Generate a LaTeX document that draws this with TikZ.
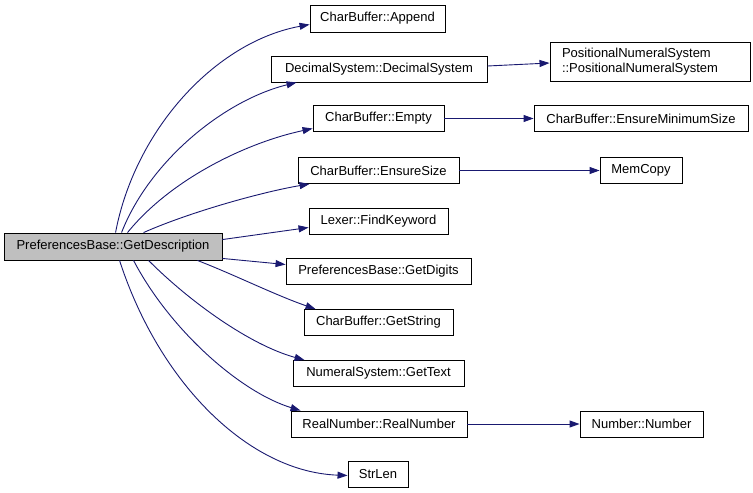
\documentclass[tikz,border=0pt]{standalone}
\usepackage{fontspec}
\setmainfont{Liberation Sans}
\usetikzlibrary{arrows.meta}
\definecolor{edgec}{HTML}{191970}
\definecolor{rootfill}{HTML}{BFBFBF}
\begin{document}
\begin{tikzpicture}[x=1pt,y=-1pt,
  fn/.style={draw=black,line width=0.9pt,fill=white,inner sep=0pt,minimum height=26pt,font=\fontsize{13}{15.5}\selectfont},
  rootfn/.style={fn,fill=rootfill},
  edge/.style={draw=edgec,line width=0.9pt,-{Triangle[length=10pt,width=7pt]}}]
\useasboundingbox (0,0) rectangle (753,493);
\node[rootfn,minimum width=218pt,minimum height=27pt] (root) at (113,246.5) {PreferencesBase::GetDescription};
\node[fn,minimum width=135pt,minimum height=27pt] (append) at (377.5,18.5) {CharBuffer::Append};
\node[fn,minimum width=216pt] (dec) at (379,69) {DecimalSystem::DecimalSystem};
\node[fn,minimum width=200pt,minimum height=39pt,align=left,text width=176pt,inner xsep=12pt] (pos) at (650,61.5) {PositionalNumeralSystem\\::PositionalNumeralSystem};
\node[fn,minimum width=131pt] (empty) at (378.5,118.5) {CharBuffer::Empty};
\node[fn,minimum width=214pt] (ensmin) at (641,118.5) {CharBuffer::EnsureMinimumSize};
\node[fn,minimum width=161pt] (enssize) at (378.5,170.5) {CharBuffer::EnsureSize};
\node[fn,minimum width=82pt] (memcopy) at (641,170.5) {MemCopy};
\node[fn,minimum width=139pt] (findkw) at (378.5,221.5) {Lexer::FindKeyword};
\node[fn,minimum width=185pt] (digits) at (378.5,271.5) {PreferencesBase::GetDigits};
\node[fn,minimum width=149pt] (getstr) at (378.5,322.5) {CharBuffer::GetString};
\node[fn,minimum width=171pt] (gettext) at (378.5,373.5) {NumeralSystem::GetText};
\node[fn,minimum width=176pt] (real) at (379,424) {RealNumber::RealNumber};
\node[fn,minimum width=123pt] (number) at (641.5,424) {Number::Number};
\node[fn,minimum width=60pt] (strlen) at (378,474.5) {StrLen};

% edges from root
\draw[edge] ([xshift=112pt]root.north west) .. controls (135,130) and (215,42) .. ([yshift=-6pt]append.west);
\draw[edge] ([xshift=118pt]root.north west) .. controls (150,160) and (225,100) .. ([xshift=26pt]dec.south west);
\draw[edge] ([xshift=124pt]root.north west) .. controls (170,180) and (245,143) .. ([yshift=-10pt]empty.west);
\draw[edge] ([xshift=140pt]root.north west) .. controls (190,212) and (262,192) .. ([xshift=12pt]enssize.south west);
\draw[edge] ([yshift=-7pt]root.north east) -- ([yshift=-6pt]findkw.west);
\draw[edge] ([yshift=2pt]root.south east) -- ([yshift=7pt]digits.west);
\draw[edge] ([xshift=-25pt]root.south east) .. controls (235,275) and (275,295) .. ([xshift=12pt]getstr.north west);
\draw[edge] ([xshift=145pt]root.south west) .. controls (190,302) and (250,345) .. ([xshift=12pt]gettext.north west);
\draw[edge] ([xshift=130pt]root.south west) .. controls (170,330) and (240,392) .. ([xshift=10pt]real.north west);
\draw[edge] ([xshift=116pt]root.south west) .. controls (160,385) and (250,472) .. ([yshift=-1pt]strlen.west);
% other edges
\draw[edge] ([yshift=3pt]dec.east) -- ([yshift=-1.5pt]pos.west);
\draw[edge] (empty.east) -- (ensmin.west);
\draw[edge] (enssize.east) -- (memcopy.west);
\draw[edge] (real.east) -- (number.west);
\end{tikzpicture}
\end{document}
